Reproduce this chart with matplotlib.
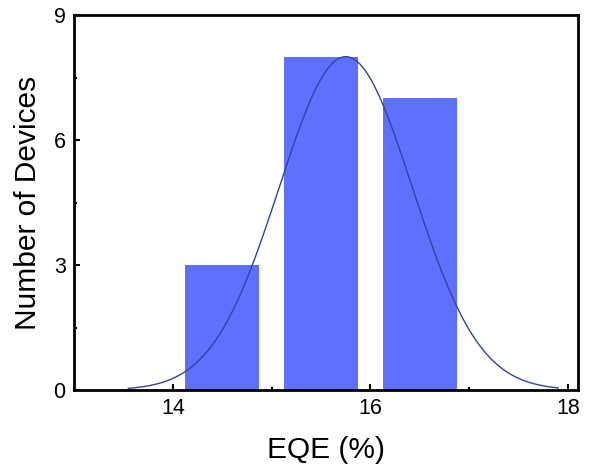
import numpy as np
import matplotlib
matplotlib.use("Agg")
import matplotlib.pyplot as plt
from matplotlib.ticker import MultipleLocator

plt.rcParams['font.family'] = ['Liberation Sans', 'DejaVu Sans']

# histogram bins (EQE %) and device counts
bin_centers = [14.5, 15.5, 16.5]
counts = [3, 8, 7]
bar_width = 0.75

# gaussian fit over the distribution
fit_mu = 15.75
fit_sigma = 0.675
fit_amp = 8.0
fit_range = (13.55, 17.9)

fig = plt.figure(figsize=(5.93, 4.72), dpi=100)
ax = fig.add_axes([74 / 593, 1 - 390 / 472, (578 - 74) / 593, (390 - 15) / 472])

ax.bar(bin_centers, counts, width=bar_width, color='#5f6ffe', edgecolor='none', zorder=2)

xf = np.linspace(*fit_range, 300)
yf = fit_amp * np.exp(-(xf - fit_mu) ** 2 / (2 * fit_sigma ** 2))
ax.plot(xf, yf, color='#3442a0', lw=1.0, zorder=3)

ax.set_xlim(13, 18.1)
ax.set_ylim(0, 9)
ax.xaxis.set_major_locator(MultipleLocator(2))
ax.xaxis.set_minor_locator(MultipleLocator(1))
ax.yaxis.set_major_locator(MultipleLocator(3))
ax.yaxis.set_minor_locator(MultipleLocator(1.5))
ax.tick_params(which='both', direction='in', top=False, right=False, labelsize=15.5, width=1.5)
ax.tick_params(which='major', length=4, pad=6)
ax.tick_params(which='minor', length=2)
for s in ax.spines.values():
    s.set_linewidth(2)

ax.set_xlabel('EQE (%)', fontsize=21.5, labelpad=12)
ax.set_ylabel('Number of Devices', fontsize=21.5, labelpad=8)

fig.savefig('out.png', dpi=100)
